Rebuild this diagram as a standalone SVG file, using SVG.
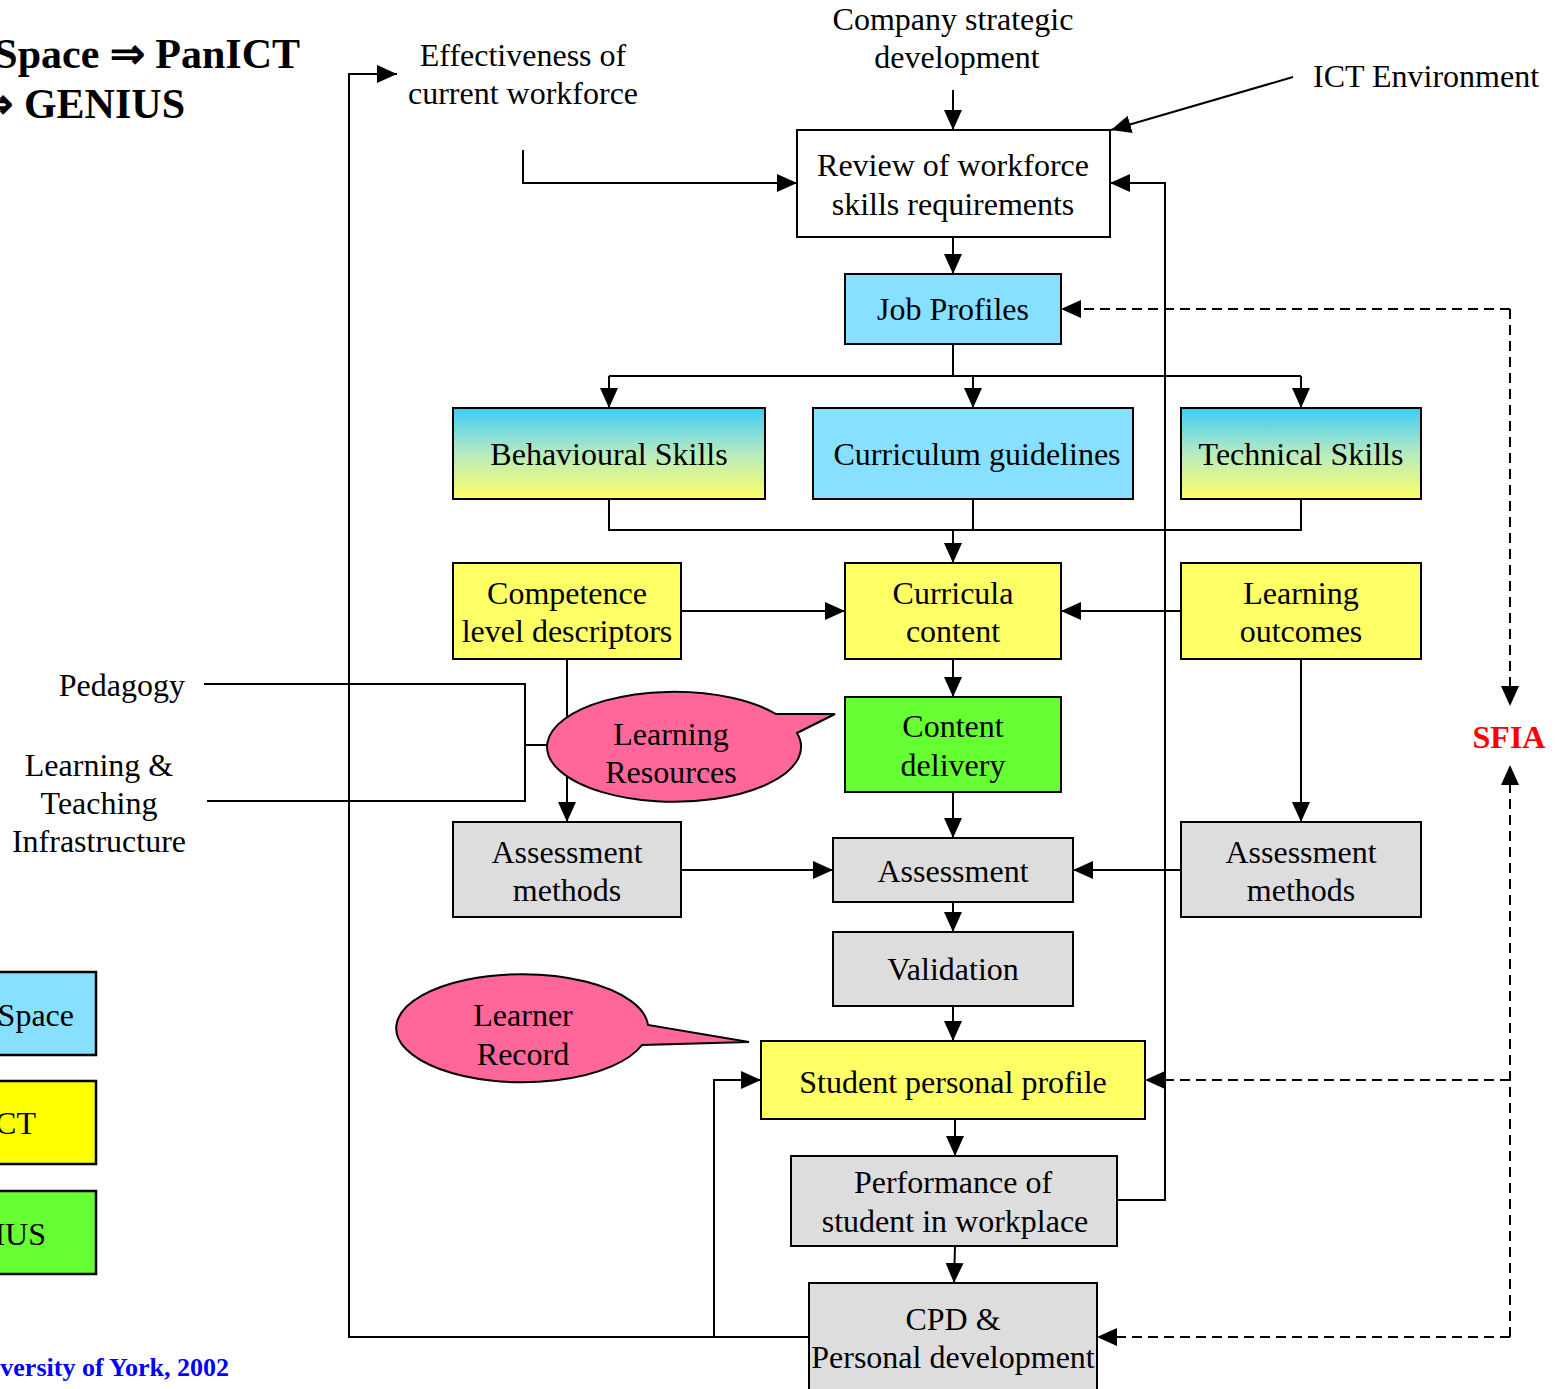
<svg xmlns="http://www.w3.org/2000/svg" width="1558" height="1389" viewBox="0 0 1558 1389">
<defs>
<marker id="ah" markerUnits="userSpaceOnUse" markerWidth="22" markerHeight="20" refX="20" refY="9" orient="auto">
<path d="M0,0 L20,9 L0,18 z" fill="#000"/>
</marker>
<linearGradient id="grad" x1="0" y1="0" x2="0" y2="1">
<stop offset="0" stop-color="#3DCCF8"/>
<stop offset="0.5" stop-color="#B6EAC0"/>
<stop offset="1" stop-color="#FFFF66"/>
</linearGradient>
<style>
text{font-family:"Liberation Serif","Times New Roman",serif;font-size:32px;fill:#000;text-anchor:middle}
.box{stroke:#000;stroke-width:2}
.w{fill:#fff}
.c{fill:#87E0FF}
.y{fill:#FFFF66}
.g{fill:#66FF33}
.gr{fill:#DDDDDD}
.pk{fill:#FF6699;stroke:#000;stroke-width:2}
.ln{fill:none;stroke:#000;stroke-width:2}
.ar{marker-end:url(#ah)}
.ds{fill:none;stroke:#000;stroke-width:2;stroke-dasharray:10,6}
.b{font-weight:bold}
.end{text-anchor:end}
.st{text-anchor:start}
.lg{stroke:#000;stroke-width:2.5}
</style>
</defs>

<g id="title">
<text class="b end" x="300" y="68" style="font-size:42px">Space ⇒ PanICT</text>
<text class="b end" x="185" y="118" style="font-size:42px">⇒ GENIUS</text>
</g>

<g id="connectors">
<line class="ln ar" x1="953" y1="90" x2="953" y2="130"/>
<line class="ln ar" x1="1293" y1="77" x2="1111" y2="130"/>
<polyline class="ln ar" points="523,150 523,183 797,183"/>
<polyline class="ln ar" points="809,1337 349,1337 349,74 397,74"/>
<polyline class="ln ar" points="714,1337 714,1080 761,1080"/>
<polyline class="ln ar" points="1117,1200 1165,1200 1165,183 1110,183"/>
<line class="ln ar" x1="953" y1="237" x2="953" y2="274"/>
<line class="ln" x1="953" y1="344" x2="953" y2="376"/>
<line class="ln" x1="609" y1="376" x2="1301" y2="376"/>
<line class="ln ar" x1="609" y1="376" x2="609" y2="408"/>
<line class="ln ar" x1="973" y1="376" x2="973" y2="408"/>
<line class="ln ar" x1="1301" y1="376" x2="1301" y2="408"/>
<polyline class="ln" points="609,499 609,530 1301,530 1301,499"/>
<line class="ln" x1="973" y1="499" x2="973" y2="530"/>
<line class="ln ar" x1="953" y1="530" x2="953" y2="563"/>
<line class="ln ar" x1="681" y1="611" x2="845" y2="611"/>
<line class="ln ar" x1="1181" y1="611" x2="1061" y2="611"/>
<line class="ln ar" x1="953" y1="659" x2="953" y2="697"/>
<line class="ln ar" x1="567" y1="659" x2="567" y2="822"/>
<polyline class="ln" points="204,684 525,684 525,801 207,801"/>
<line class="ln" x1="525" y1="745" x2="548" y2="745"/>
<line class="ln ar" x1="953" y1="792" x2="953" y2="838"/>
<line class="ln ar" x1="681" y1="870" x2="833" y2="870"/>
<line class="ln ar" x1="1181" y1="870" x2="1073" y2="870"/>
<line class="ln ar" x1="1301" y1="659" x2="1301" y2="822"/>
<line class="ln ar" x1="953" y1="902" x2="953" y2="932"/>
<line class="ln ar" x1="953" y1="1006" x2="953" y2="1041"/>
<line class="ln ar" x1="955" y1="1119" x2="955" y2="1156"/>
<line class="ln ar" x1="955" y1="1246" x2="954" y2="1283"/>
<polyline class="ds ar" points="1510,309 1061,309"/>
<polyline class="ds ar" points="1510,309 1510,706"/>
<polyline class="ds ar" points="1510,1337 1510,765"/>
<polyline class="ds ar" points="1510,1080 1145,1080"/>
<polyline class="ds ar" points="1510,1337 1097,1337"/>
</g>

<g id="company"><text x="953" y="30">Company strategic</text><text x="957" y="68">development</text></g>
<g id="ict-env"><text class="st" x="1313" y="87">ICT Environment</text></g>
<g id="effectiveness"><text x="523" y="66">Effectiveness of</text><text x="523" y="104">current workforce</text></g>
<g id="pedagogy"><text class="end" x="185" y="696">Pedagogy</text></g>
<g id="infrastructure"><text x="99" y="776">Learning &amp;</text><text x="99" y="814">Teaching</text><text x="99" y="852">Infrastructure</text></g>
<g id="sfia"><text class="b" x="1509" y="748" style="fill:#FF0000">SFIA</text></g>

<g id="review"><rect class="box w" x="797" y="130" width="313" height="107"/><text x="953" y="176">Review of workforce</text><text x="953" y="215">skills requirements</text></g>
<g id="job-profiles"><rect class="box c" x="845" y="274" width="216" height="70"/><text x="953" y="320">Job Profiles</text></g>
<g id="behavioural"><rect class="box" fill="url(#grad)" x="453" y="408" width="312" height="91"/><text x="609" y="465">Behavioural Skills</text></g>
<g id="curriculum-guidelines"><rect class="box c" x="813" y="408" width="320" height="91"/><text x="977" y="465">Curriculum guidelines</text></g>
<g id="technical"><rect class="box" fill="url(#grad)" x="1181" y="408" width="240" height="91"/><text x="1301" y="465">Technical Skills</text></g>
<g id="competence"><rect class="box y" x="453" y="563" width="228" height="96"/><text x="567" y="604">Competence</text><text x="567" y="642">level descriptors</text></g>
<g id="curricula"><rect class="box y" x="845" y="563" width="216" height="96"/><text x="953" y="604">Curricula</text><text x="953" y="642">content</text></g>
<g id="learning-outcomes"><rect class="box y" x="1181" y="563" width="240" height="96"/><text x="1301" y="604">Learning</text><text x="1301" y="642">outcomes</text></g>
<g id="content-delivery"><rect class="box g" x="845" y="697" width="216" height="95"/><text x="953" y="737">Content</text><text x="953" y="776">delivery</text></g>
<g id="learning-resources">
<path class="pk" d="M776,714 A127,55 0 1 0 797,733 L835,714 Z"/>
<text x="671" y="745">Learning</text><text x="671" y="783">Resources</text></g>
<g id="assessment-methods-left"><rect class="box gr" x="453" y="822" width="228" height="95"/><text x="567" y="863">Assessment</text><text x="567" y="901">methods</text></g>
<g id="assessment"><rect class="box gr" x="833" y="838" width="240" height="64"/><text x="953" y="882">Assessment</text></g>
<g id="assessment-methods-right"><rect class="box gr" x="1181" y="822" width="240" height="95"/><text x="1301" y="863">Assessment</text><text x="1301" y="901">methods</text></g>
<g id="validation"><rect class="box gr" x="833" y="932" width="240" height="74"/><text x="953" y="980">Validation</text></g>
<g id="learner-record">
<path class="pk" d="M648,1025 A126,54 0 1 0 642,1045 L749,1042 Z"/>
<text x="523" y="1026">Learner</text><text x="523" y="1065">Record</text></g>
<g id="student-profile"><rect class="box y" x="761" y="1041" width="384" height="78"/><text x="953" y="1093">Student personal profile</text></g>
<g id="performance"><rect class="box gr" x="791" y="1156" width="326" height="90"/><text x="953" y="1193">Performance of</text><text x="955" y="1232">student in workplace</text></g>
<g id="cpd"><rect class="box gr" x="809" y="1283" width="288" height="120"/><text x="953" y="1330">CPD &amp;</text><text x="953" y="1368">Personal development</text></g>

<g id="legend">
<rect class="lg" fill="#87E0FF" x="-10" y="972" width="106" height="83"/><text class="end" x="74" y="1026">Space</text>
<rect class="lg" fill="#FFFF00" x="-10" y="1081" width="106" height="83"/><text class="end" x="36" y="1134">CT</text>
<rect class="lg" fill="#66FF33" x="-10" y="1191" width="106" height="83"/><text class="end" x="46" y="1245">IUS</text>
</g>
<g id="credit"><text class="b end" x="229" y="1376" style="font-size:26px;fill:#0000FF">versity of York, 2002</text></g>
</svg>
